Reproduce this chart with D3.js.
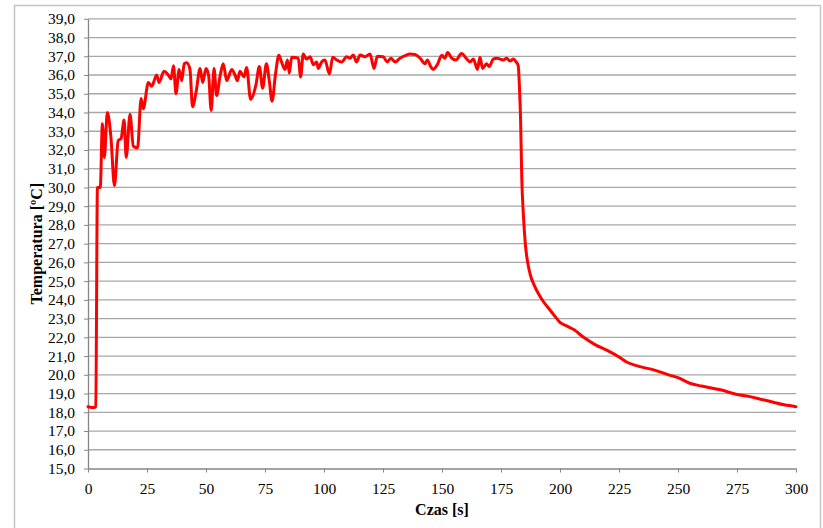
<!DOCTYPE html>
<html>
<head>
<meta charset="utf-8">
<script src="https://cdn.jsdelivr.net/npm/d3@7"></script>
<style>
  html, body { margin: 0; padding: 0; background: #fff; }
  svg { display: block; }
</style>
</head>
<body>
<script>
// Time [s] and temperature [°C]
const times = [
  0, 2.5, 3.3, 4.0, 5.2, 6.1, 6.9, 8.2, 9.7, 11.2, 12.8, 14.0, 15.3, 16.2, 17.8,
  19.2, 21.0, 22.5, 23.4, 25.6, 27.0, 29.1, 30.1, 32.2, 34.0, 35.2, 36.2, 37.3,
  38.6, 39.7, 40.8, 41.8, 43.2, 44.3, 45.8, 47.5, 48.6, 50.0, 51.1, 52.2, 53.4,
  54.5, 55.9, 57.3, 58.8, 60.9, 62.3, 63.3, 64.4, 66.1, 67.2, 68.9, 71.2, 72.6,
  74.0, 75.6, 76.8, 78.0, 79.4, 80.9, 82.0, 83.5, 84.5, 85.3, 86.3, 89.1, 90.1,
  91.2, 92.6, 94.1, 95.5, 96.9, 97.6, 99.0, 100.4, 102.3, 103.7, 105.4, 107.5,
  109.6, 111.0, 112.4, 113.8, 115.3, 117.4, 119.5, 121.2, 122.6, 125.1, 126.8,
  128.3, 130.1, 132.2, 134.7, 136.4, 138.6, 140.7, 142.8, 143.8, 145.2, 146.3,
  148.0, 149.9, 151.2, 152.4, 154.1, 155.9, 158.3, 160.2, 161.9, 163.3, 165.0,
  166.1, 167.2, 168.9, 170.0, 171.7, 173.2, 174.6, 176.0, 177.4, 178.8, 180.2,
  181.4, 182.3, 182.8, 183.3, 183.8, 184.5, 185.3, 186.3, 187.5, 189.0, 191.0,
  193.0, 195.5, 198.0, 200.0, 203.0, 206.0, 210.0, 215.0, 220.0, 225.0, 228.0,
  232.0, 240.0, 246.0, 250.0, 255.0, 260.0, 268.0, 275.0, 280.0, 285.0, 290.0,
  295.0, 300.0
];
const temps = [
  18.3, 18.25, 18.3, 30.0, 30.0, 33.4, 31.6, 34.0, 32.7, 30.1, 32.5, 32.6, 33.6, 31.6, 33.9,
  32.2, 32.1, 34.75, 34.2, 35.6, 35.4, 36.0, 35.6, 36.2, 36.0, 35.8, 36.5, 35.0,
  36.3, 35.7, 36.6, 36.65, 36.3, 34.3, 35.1, 36.35, 35.6, 36.35, 36.0, 34.1, 36.35,
  34.9, 35.9, 36.6, 35.7, 36.3, 36.0, 35.7, 36.2, 35.9, 36.4, 34.7, 35.5, 36.45,
  35.3, 36.6, 35.7, 34.6, 36.0, 37.05, 36.7, 36.3, 36.8, 36.1, 36.95, 36.9, 35.9,
  37.12, 36.85, 36.97, 36.55, 36.7, 36.35, 36.7, 36.8, 36.05, 36.95, 36.8, 36.7,
  36.97, 36.9, 37.07, 36.7, 37.07, 36.97, 37.12, 36.35, 37.0, 36.97, 36.7,
  36.9, 36.7, 36.9, 37.05, 37.12, 37.1, 36.9, 36.6, 36.8, 36.45, 36.3,
  36.55, 37.05, 36.9, 37.2, 36.9, 36.8, 37.15, 36.9, 36.7, 36.85, 36.3,
  36.95, 36.35, 36.6, 36.45, 36.85, 36.9, 36.85, 36.8, 36.9, 36.75, 36.85,
  36.7, 36.5, 35.4, 33.6, 30.5, 28.5, 27.0, 26.0, 25.3, 24.8, 24.3,
  23.9, 23.5, 23.1, 22.8, 22.6, 22.4, 22.0, 21.6, 21.3, 20.95, 20.7,
  20.5, 20.25, 20.0, 19.85, 19.55, 19.4, 19.2, 18.95, 18.85, 18.7, 18.55,
  18.4, 18.3
];
const xTicks = [0, 25, 50, 75, 100, 125, 150, 175, 200, 225, 250, 275, 300];
const yTicks = d3.range(15, 39.5, 1);

const width = 823;
const height = 528;
const margins = { left: 88, right: 27, top: 18.8, bottom: 59.5 };
const fontFamily = "'Liberation Serif', 'Times New Roman', serif";

const locale = d3.formatLocale({ decimal: ",", thousands: " ", grouping: [3], currency: ["", ""] });
const fmt = locale.format(".1f");

const data = times.map((t, i) => ({ t, v: temps[i] }));

// Scales
const xScale = d3.scaleLinear().domain([0, 300]).range([margins.left, width - margins.right]);
const yScale = d3.scaleLinear().domain([15, 39]).range([height - margins.bottom, margins.top]);

const svg = d3.select("body").append("svg").attr("width", width).attr("height", height);

// Chart border
svg.append("rect")
  .attr("x", 14.5)
  .attr("y", 5.5)
  .attr("width", 806)
  .attr("height", 540)
  .attr("fill", "none")
  .attr("stroke", "#c4c4c4")
  .attr("stroke-width", 1.5);

// Gridlines
svg.append("g")
  .selectAll("line")
  .data(yTicks.filter((d) => d > 15))
  .join("line")
  .attr("x1", xScale(0))
  .attr("x2", xScale(300))
  .attr("y1", (d) => yScale(d))
  .attr("y2", (d) => yScale(d))
  .attr("stroke", "#a8a8a8")
  .attr("stroke-width", 1.3);

// Y axis
const yAxis = svg.append("g")
  .attr("transform", `translate(${xScale(0)},0)`)
  .call(d3.axisLeft(yScale).tickValues(yTicks).tickFormat(fmt).tickSize(4).tickSizeOuter(0).tickPadding(9));
yAxis.select(".domain").attr("stroke", "#868686").attr("stroke-width", 1.3);
yAxis.selectAll(".tick line").attr("stroke", "#868686");
yAxis.selectAll("text")
  .attr("font-family", fontFamily)
  .attr("font-size", "15.5px")
  .attr("fill", "#000");

// X axis
const xAxis = svg.append("g")
  .attr("transform", `translate(0,${yScale(15)})`)
  .call(d3.axisBottom(xScale).tickValues(xTicks).tickFormat(d3.format("d")).tickSize(4).tickSizeOuter(0).tickPadding(10));
xAxis.select(".domain").attr("stroke", "#868686").attr("stroke-width", 1.3);
xAxis.selectAll(".tick line").attr("stroke", "#868686");
xAxis.selectAll("text")
  .attr("font-family", fontFamily)
  .attr("font-size", "15.5px")
  .attr("fill", "#000");

// Temperature curve
const line = d3.line()
  .x((d) => xScale(d.t))
  .y((d) => yScale(d.v))
  .curve(d3.curveMonotoneX);

svg.append("path")
  .datum(data)
  .attr("d", line)
  .attr("fill", "none")
  .attr("stroke", "#ff0000")
  .attr("stroke-width", 3)
  .attr("stroke-linejoin", "round")
  .attr("stroke-linecap", "round");

// X axis label
svg.append("text")
  .attr("x", 442)
  .attr("y", 515)
  .attr("text-anchor", "middle")
  .attr("font-family", fontFamily)
  .attr("font-weight", "bold")
  .attr("font-size", "16px")
  .text("Czas [s]");

// Y axis label
svg.append("text")
  .attr("transform", `translate(42, ${(yScale(15) + yScale(39)) / 2}) rotate(-90)`)
  .attr("text-anchor", "middle")
  .attr("font-family", fontFamily)
  .attr("font-weight", "bold")
  .attr("font-size", "16px")
  .text("Temperatura [ºC]");
</script>
</body>
</html>
